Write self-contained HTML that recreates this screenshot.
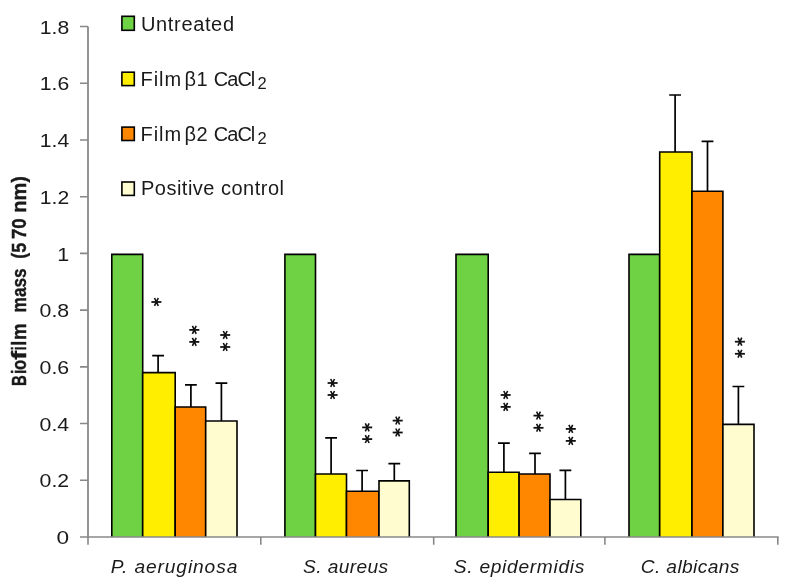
<!DOCTYPE html><html><head><meta charset="utf-8"><style>html,body{margin:0;padding:0;background:#fff;overflow:hidden;}svg{display:block;} text{will-change:transform;}text{font-family:"Liberation Sans",sans-serif;fill:#1a1a1a;}</style></head><body>
<svg width="789" height="585" viewBox="0 0 789 585">
<rect x="0" y="0" width="789" height="585" fill="#fff"/>
<rect x="111.80" y="254.40" width="30.90" height="282.60" fill="#6fd244"/>
<path d="M111.80 537.0V254.40H142.70V537.0" stroke="#000" stroke-width="1.6" fill="none"/>
<rect x="142.70" y="372.60" width="32.50" height="164.40" fill="#ffee00"/>
<path d="M142.70 537.0V372.60H175.20V537.0" stroke="#000" stroke-width="1.6" fill="none"/>
<rect x="175.20" y="407.00" width="30.50" height="130.00" fill="#ff8700"/>
<path d="M175.20 537.0V407.00H205.70V537.0" stroke="#000" stroke-width="1.6" fill="none"/>
<rect x="205.70" y="421.00" width="31.30" height="116.00" fill="#fffdcf"/>
<path d="M205.70 537.0V421.00H237.00V537.0" stroke="#000" stroke-width="1.6" fill="none"/>
<rect x="284.90" y="254.40" width="30.60" height="282.60" fill="#6fd244"/>
<path d="M284.90 537.0V254.40H315.50V537.0" stroke="#000" stroke-width="1.6" fill="none"/>
<rect x="315.50" y="474.00" width="31.00" height="63.00" fill="#ffee00"/>
<path d="M315.50 537.0V474.00H346.50V537.0" stroke="#000" stroke-width="1.6" fill="none"/>
<rect x="346.50" y="491.20" width="32.50" height="45.80" fill="#ff8700"/>
<path d="M346.50 537.0V491.20H379.00V537.0" stroke="#000" stroke-width="1.6" fill="none"/>
<rect x="379.00" y="480.90" width="30.30" height="56.10" fill="#fffdcf"/>
<path d="M379.00 537.0V480.90H409.30V537.0" stroke="#000" stroke-width="1.6" fill="none"/>
<rect x="456.00" y="254.40" width="32.20" height="282.60" fill="#6fd244"/>
<path d="M456.00 537.0V254.40H488.20V537.0" stroke="#000" stroke-width="1.6" fill="none"/>
<rect x="488.20" y="472.20" width="30.90" height="64.80" fill="#ffee00"/>
<path d="M488.20 537.0V472.20H519.10V537.0" stroke="#000" stroke-width="1.6" fill="none"/>
<rect x="519.10" y="474.00" width="30.90" height="63.00" fill="#ff8700"/>
<path d="M519.10 537.0V474.00H550.00V537.0" stroke="#000" stroke-width="1.6" fill="none"/>
<rect x="550.00" y="499.50" width="30.80" height="37.50" fill="#fffdcf"/>
<path d="M550.00 537.0V499.50H580.80V537.0" stroke="#000" stroke-width="1.6" fill="none"/>
<rect x="629.00" y="254.40" width="30.70" height="282.60" fill="#6fd244"/>
<path d="M629.00 537.0V254.40H659.70V537.0" stroke="#000" stroke-width="1.6" fill="none"/>
<rect x="659.70" y="152.00" width="32.30" height="385.00" fill="#ffee00"/>
<path d="M659.70 537.0V152.00H692.00V537.0" stroke="#000" stroke-width="1.6" fill="none"/>
<rect x="692.00" y="191.20" width="30.90" height="345.80" fill="#ff8700"/>
<path d="M692.00 537.0V191.20H722.90V537.0" stroke="#000" stroke-width="1.6" fill="none"/>
<rect x="722.90" y="424.40" width="31.10" height="112.60" fill="#fffdcf"/>
<path d="M722.90 537.0V424.40H754.00V537.0" stroke="#000" stroke-width="1.6" fill="none"/>
<path d="M158.10 372.60V355.60M152.20 355.60H164.00" stroke="#000" stroke-width="1.7" fill="none"/>
<path d="M190.90 407.00V384.90M185.00 384.90H196.80" stroke="#000" stroke-width="1.7" fill="none"/>
<path d="M221.40 421.00V383.10M215.50 383.10H227.30" stroke="#000" stroke-width="1.7" fill="none"/>
<path d="M331.10 474.00V437.90M325.20 437.90H337.00" stroke="#000" stroke-width="1.7" fill="none"/>
<path d="M362.10 491.20V470.50M356.20 470.50H368.00" stroke="#000" stroke-width="1.7" fill="none"/>
<path d="M394.30 480.90V463.70M388.40 463.70H400.20" stroke="#000" stroke-width="1.7" fill="none"/>
<path d="M503.90 472.20V443.10M498.00 443.10H509.80" stroke="#000" stroke-width="1.7" fill="none"/>
<path d="M535.00 474.00V453.40M529.10 453.40H540.90" stroke="#000" stroke-width="1.7" fill="none"/>
<path d="M565.40 499.50V470.30M559.50 470.30H571.30" stroke="#000" stroke-width="1.7" fill="none"/>
<path d="M675.10 152.00V95.00M669.20 95.00H681.00" stroke="#000" stroke-width="1.7" fill="none"/>
<path d="M707.50 191.20V141.40M701.60 141.40H713.40" stroke="#000" stroke-width="1.7" fill="none"/>
<path d="M738.40 424.40V386.50M732.50 386.50H744.30" stroke="#000" stroke-width="1.7" fill="none"/>
<path d="M88.0 26.52V537.0" stroke="#888888" stroke-width="1.8" fill="none"/>
<path d="M88.0 537.0H778.6" stroke="#888888" stroke-width="1.6" fill="none"/>
<path d="M80 537.00H88.0M80 480.28H88.0M80 423.56H88.0M80 366.84H88.0M80 310.12H88.0M80 253.40H88.0M80 196.68H88.0M80 139.96H88.0M80 83.24H88.0M80 26.52H88.0" stroke="#888888" stroke-width="1.6" fill="none"/>
<path d="M88.00 537.0V544.8M260.80 537.0V544.8M433.70 537.0V544.8M604.90 537.0V544.8M777.80 537.0V544.8" stroke="#888888" stroke-width="1.6" fill="none"/>
<text x="69.2" y="544.10" font-size="19" text-anchor="end" textLength="12.6" lengthAdjust="spacingAndGlyphs">0</text>
<text x="69.2" y="487.38" font-size="19" text-anchor="end" textLength="29.6" lengthAdjust="spacingAndGlyphs">0.2</text>
<text x="69.2" y="430.66" font-size="19" text-anchor="end" textLength="29.6" lengthAdjust="spacingAndGlyphs">0.4</text>
<text x="69.2" y="373.94" font-size="19" text-anchor="end" textLength="29.6" lengthAdjust="spacingAndGlyphs">0.6</text>
<text x="69.2" y="317.22" font-size="19" text-anchor="end" textLength="29.6" lengthAdjust="spacingAndGlyphs">0.8</text>
<text x="69.2" y="260.50" font-size="19" text-anchor="end" textLength="12.0" lengthAdjust="spacingAndGlyphs">1</text>
<text x="69.2" y="203.78" font-size="19" text-anchor="end" textLength="29.4" lengthAdjust="spacingAndGlyphs">1.2</text>
<text x="69.2" y="147.06" font-size="19" text-anchor="end" textLength="29.4" lengthAdjust="spacingAndGlyphs">1.4</text>
<text x="69.2" y="90.34" font-size="19" text-anchor="end" textLength="29.4" lengthAdjust="spacingAndGlyphs">1.6</text>
<text x="69.2" y="33.62" font-size="19" text-anchor="end" textLength="29.4" lengthAdjust="spacingAndGlyphs">1.8</text>
<text x="174.05" y="573.1" font-size="19.2" font-style="italic" text-anchor="middle" textLength="126.5" lengthAdjust="spacing">P. aeruginosa</text>
<text x="345.60" y="573.1" font-size="19.2" font-style="italic" text-anchor="middle" textLength="85.2" lengthAdjust="spacing">S. aureus</text>
<text x="519.10" y="573.1" font-size="19.2" font-style="italic" text-anchor="middle" textLength="130.5" lengthAdjust="spacing">S. epidermidis</text>
<text x="690.00" y="573.1" font-size="19.2" font-style="italic" text-anchor="middle" textLength="98.6" lengthAdjust="spacing">C. albicans</text>
<text transform="rotate(-90)" y="25.6" font-size="20.8" font-weight="bold" stroke="#1a1a1a" stroke-width="0.35"><tspan x="-386.10" textLength="10.80" lengthAdjust="spacingAndGlyphs">B</tspan><tspan x="-373.90" textLength="4.40" lengthAdjust="spacingAndGlyphs">i</tspan><tspan x="-370.10" textLength="10.20" lengthAdjust="spacingAndGlyphs">o</tspan><tspan x="-359.80" textLength="8.90" lengthAdjust="spacingAndGlyphs">f</tspan><tspan x="-350.20" textLength="3.80" lengthAdjust="spacingAndGlyphs">i</tspan><tspan x="-345.70" textLength="5.00" lengthAdjust="spacingAndGlyphs">l</tspan><tspan x="-340.00" textLength="16.60" lengthAdjust="spacingAndGlyphs">m</tspan><tspan x="-312.40" textLength="44.10" lengthAdjust="spacingAndGlyphs">mass</tspan><tspan x="-258.80" textLength="16.10" lengthAdjust="spacingAndGlyphs">(5</tspan><tspan x="-239.10" textLength="20.90" lengthAdjust="spacingAndGlyphs">70</tspan><tspan x="-212.80" textLength="36.70" lengthAdjust="spacingAndGlyphs">nm)</tspan></text>
<rect x="121.9" y="16.30" width="12.4" height="14.00" fill="#6fd244" stroke="#000" stroke-width="1.6"/>
<rect x="121.9" y="72.20" width="12.4" height="13.40" fill="#ffee00" stroke="#000" stroke-width="1.6"/>
<rect x="121.9" y="127.10" width="12.4" height="13.40" fill="#ff8700" stroke="#000" stroke-width="1.6"/>
<rect x="121.9" y="182.00" width="12.4" height="13.40" fill="#fffdcf" stroke="#000" stroke-width="1.6"/>
<text x="141.0" y="30.6" font-size="20" textLength="93" lengthAdjust="spacing">Untreated</text>
<text y="85.7" font-size="20"><tspan x="140.6" textLength="40.5" lengthAdjust="spacing">Film</tspan><tspan x="184.6" textLength="23" lengthAdjust="spacing">β1</tspan><tspan x="213.8" textLength="41.5" lengthAdjust="spacing">CaCl</tspan><tspan x="257.4" dy="3.3" font-size="16.5">2</tspan></text>
<text y="140.7" font-size="20"><tspan x="140.6" textLength="40.5" lengthAdjust="spacing">Film</tspan><tspan x="184.6" textLength="23" lengthAdjust="spacing">β2</tspan><tspan x="213.8" textLength="41.5" lengthAdjust="spacing">CaCl</tspan><tspan x="257.4" dy="3.3" font-size="16.5">2</tspan></text>
<text x="141.0" y="194.8" font-size="20" textLength="143" lengthAdjust="spacing">Positive control</text>
<path d="M151.40 302.00H161.40" stroke="#111" stroke-width="1.8" fill="none"/>
<path d="M154.50 298.00L158.30 305.90M158.30 298.00L154.50 305.90" stroke="#111" stroke-width="1.6" fill="none"/>
<path d="M189.30 329.90H199.30" stroke="#111" stroke-width="1.8" fill="none"/>
<path d="M192.40 325.90L196.20 333.80M196.20 325.90L192.40 333.80" stroke="#111" stroke-width="1.6" fill="none"/>
<path d="M189.30 341.90H199.30" stroke="#111" stroke-width="1.8" fill="none"/>
<path d="M192.40 337.90L196.20 345.80M196.20 337.90L192.40 345.80" stroke="#111" stroke-width="1.6" fill="none"/>
<path d="M220.20 335.00H230.20" stroke="#111" stroke-width="1.8" fill="none"/>
<path d="M223.30 331.00L227.10 338.90M227.10 331.00L223.30 338.90" stroke="#111" stroke-width="1.6" fill="none"/>
<path d="M220.20 347.00H230.20" stroke="#111" stroke-width="1.8" fill="none"/>
<path d="M223.30 343.00L227.10 350.90M227.10 343.00L223.30 350.90" stroke="#111" stroke-width="1.6" fill="none"/>
<path d="M327.60 383.00H337.60" stroke="#111" stroke-width="1.8" fill="none"/>
<path d="M330.70 379.00L334.50 386.90M334.50 379.00L330.70 386.90" stroke="#111" stroke-width="1.6" fill="none"/>
<path d="M327.60 395.00H337.60" stroke="#111" stroke-width="1.8" fill="none"/>
<path d="M330.70 391.00L334.50 398.90M334.50 391.00L330.70 398.90" stroke="#111" stroke-width="1.6" fill="none"/>
<path d="M362.20 427.40H372.20" stroke="#111" stroke-width="1.8" fill="none"/>
<path d="M365.30 423.40L369.10 431.30M369.10 423.40L365.30 431.30" stroke="#111" stroke-width="1.6" fill="none"/>
<path d="M362.20 439.10H372.20" stroke="#111" stroke-width="1.8" fill="none"/>
<path d="M365.30 435.10L369.10 443.00M369.10 435.10L365.30 443.00" stroke="#111" stroke-width="1.6" fill="none"/>
<path d="M392.70 420.60H402.70" stroke="#111" stroke-width="1.8" fill="none"/>
<path d="M395.80 416.60L399.60 424.50M399.60 416.60L395.80 424.50" stroke="#111" stroke-width="1.6" fill="none"/>
<path d="M392.70 432.50H402.70" stroke="#111" stroke-width="1.8" fill="none"/>
<path d="M395.80 428.50L399.60 436.40M399.60 428.50L395.80 436.40" stroke="#111" stroke-width="1.6" fill="none"/>
<path d="M500.70 395.00H510.70" stroke="#111" stroke-width="1.8" fill="none"/>
<path d="M503.80 391.00L507.60 398.90M507.60 391.00L503.80 398.90" stroke="#111" stroke-width="1.6" fill="none"/>
<path d="M500.70 406.90H510.70" stroke="#111" stroke-width="1.8" fill="none"/>
<path d="M503.80 402.90L507.60 410.80M507.60 402.90L503.80 410.80" stroke="#111" stroke-width="1.6" fill="none"/>
<path d="M533.50 415.60H543.50" stroke="#111" stroke-width="1.8" fill="none"/>
<path d="M536.60 411.60L540.40 419.50M540.40 411.60L536.60 419.50" stroke="#111" stroke-width="1.6" fill="none"/>
<path d="M533.50 427.80H543.50" stroke="#111" stroke-width="1.8" fill="none"/>
<path d="M536.60 423.80L540.40 431.70M540.40 423.80L536.60 431.70" stroke="#111" stroke-width="1.6" fill="none"/>
<path d="M565.80 428.90H575.80" stroke="#111" stroke-width="1.8" fill="none"/>
<path d="M568.90 424.90L572.70 432.80M572.70 424.90L568.90 432.80" stroke="#111" stroke-width="1.6" fill="none"/>
<path d="M565.80 440.90H575.80" stroke="#111" stroke-width="1.8" fill="none"/>
<path d="M568.90 436.90L572.70 444.80M572.70 436.90L568.90 444.80" stroke="#111" stroke-width="1.6" fill="none"/>
<path d="M734.90 341.70H744.90" stroke="#111" stroke-width="1.8" fill="none"/>
<path d="M738.00 337.70L741.80 345.60M741.80 337.70L738.00 345.60" stroke="#111" stroke-width="1.6" fill="none"/>
<path d="M734.90 353.80H744.90" stroke="#111" stroke-width="1.8" fill="none"/>
<path d="M738.00 349.80L741.80 357.70M741.80 349.80L738.00 357.70" stroke="#111" stroke-width="1.6" fill="none"/>
</svg></body></html>
